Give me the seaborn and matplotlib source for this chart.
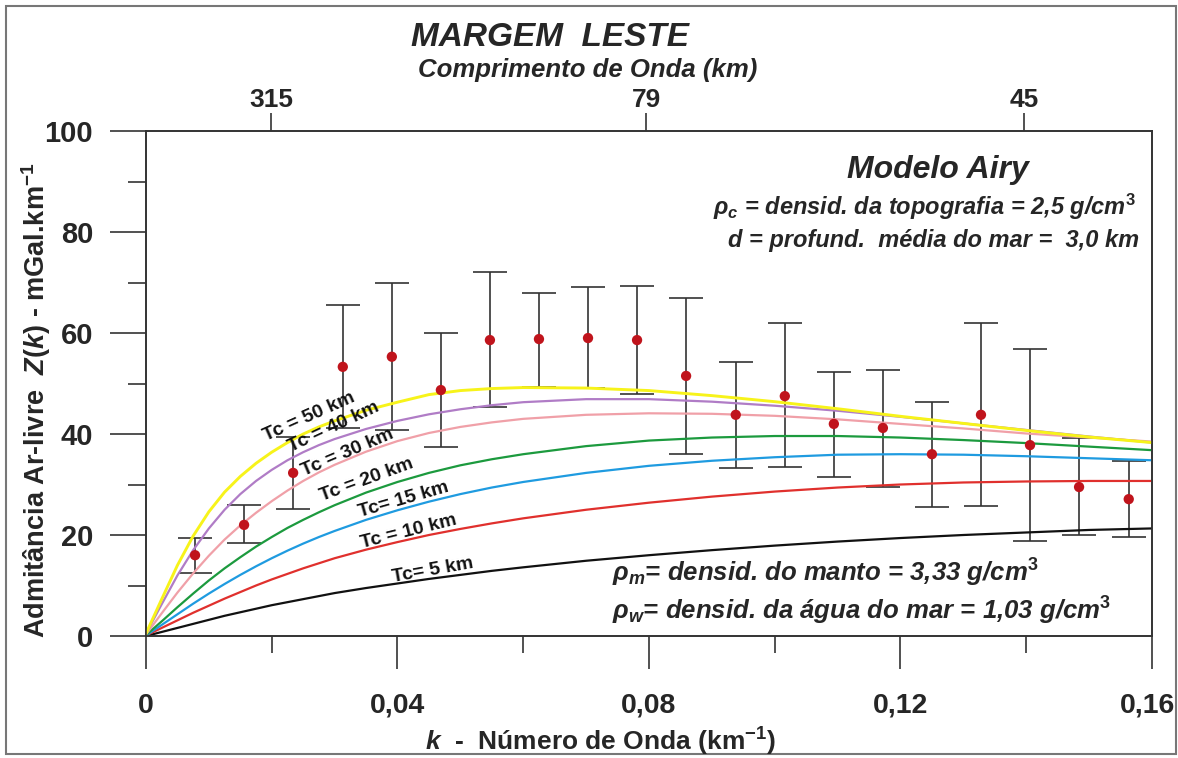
import numpy as np
import matplotlib
matplotlib.use("Agg")
import matplotlib.pyplot as plt
from matplotlib.patches import Rectangle
from matplotlib.ticker import MultipleLocator
from matplotlib.transforms import ScaledTranslation
import seaborn as sns

# --- data ---
k_curve = [0, 0.0025, 0.005, 0.0075, 0.01, 0.0125, 0.015, 0.0175, 0.02, 0.0225, 0.025,
           0.0275, 0.03, 0.035, 0.04, 0.045, 0.05, 0.055, 0.06, 0.07, 0.08, 0.09, 0.10,
           0.11, 0.12, 0.13, 0.14, 0.15, 0.16]
tc50 = [0.5, 7.3, 14.0, 19.8, 24.6, 28.5, 31.6, 34.2, 36.4, 38.3, 40.0, 41.4, 42.6, 44.7,
        46.3, 47.8, 48.6, 49.0, 49.2, 49.1, 48.6, 47.6, 46.4, 45.0, 43.5, 42.1, 40.7,
        39.4, 38.3]
tc40 = [0.5, 6.3, 12.0, 17.0, 21.3, 25.0, 28.1, 30.7, 32.9, 34.8, 36.4, 37.8, 39.0, 41.0,
        42.6, 43.9, 44.9, 45.7, 46.3, 46.9, 46.9, 46.4, 45.6, 44.6, 43.4, 42.1, 40.8,
        39.5, 38.3]
tc30 = [0.3, 4.5, 8.6, 12.4, 15.9, 19.1, 21.9, 24.4, 26.7, 28.8, 30.7, 32.4, 33.9, 36.5,
        38.6, 40.2, 41.4, 42.3, 43.0, 43.8, 44.1, 44.0, 43.6, 42.9, 42.0, 41.1, 40.1,
        39.3, 38.5]
tc20 = [0.2, 2.9, 5.7, 8.4, 11.0, 13.4, 15.6, 17.7, 19.6, 21.4, 23.0, 24.5, 25.9, 28.4,
        30.5, 32.3, 33.8, 35.0, 36.0, 37.6, 38.7, 39.3, 39.6, 39.6, 39.3, 38.8, 38.2,
        37.5, 36.8]
tc15 = [0.1, 2.2, 4.3, 6.4, 8.4, 10.3, 12.1, 13.8, 15.4, 16.9, 18.3, 19.6, 20.8, 23.0,
        24.9, 26.6, 28.1, 29.4, 30.5, 32.3, 33.7, 34.7, 35.4, 35.9, 36.0, 35.9, 35.6,
        35.2, 34.8]
tc10 = [0.1, 1.6, 3.1, 4.6, 6.0, 7.4, 8.7, 10.0, 11.2, 12.3, 13.4, 14.4, 15.4, 17.1,
        18.6, 20.0, 21.2, 22.3, 23.3, 25.0, 26.4, 27.6, 28.6, 29.4, 30.0, 30.4, 30.6,
        30.7, 30.7]
tc5 = [0, 0.8, 1.6, 2.4, 3.2, 4.0, 4.7, 5.4, 6.1, 6.7, 7.3, 7.9, 8.5, 9.5, 10.4, 11.3,
       12.1, 12.9, 13.6, 14.9, 16.0, 17.0, 17.9, 18.7, 19.4, 20.0, 20.5, 21.0, 21.3]

curve_names = ["Tc= 5 km", "Tc = 10 km", "Tc= 15 km", "Tc = 20 km",
               "Tc = 30 km", "Tc = 40 km", "Tc = 50 km"]
curve_values = [tc5, tc10, tc15, tc20, tc30, tc40, tc50]
curve_colors = ["#111111", "#e0302d", "#1f9be0", "#1c9a3e", "#f0a0a8", "#b07cc6", "#f7f31a"]
label_k = [0.0456, 0.0418, 0.0409, 0.0351, 0.0320, 0.0299, 0.0259]
label_z = [12.9, 20.6, 27.0, 30.9, 36.4, 41.4, 43.4]
label_rot = [10, 14, 16, 20, 23, 25, 24]

k_obs = [0.0078, 0.0156, 0.0234, 0.0313, 0.0391, 0.0469, 0.0547, 0.0625, 0.0703, 0.0781,
         0.0859, 0.0938, 0.1016, 0.1094, 0.1172, 0.125, 0.1328, 0.1406, 0.1484, 0.1563]
z_obs = [16, 22, 32.3, 53.3, 55.3, 48.7, 58.6, 58.8, 59, 58.6,
         51.5, 43.8, 47.5, 42, 41.2, 36, 43.8, 37.8, 29.5, 27.1]
z_low = [12.5, 18.4, 25.2, 41.2, 40.8, 37.5, 45.3, 49.3, 49.1, 48,
         36, 33.3, 33.5, 31.5, 29.5, 25.5, 25.7, 18.8, 20, 19.6]
z_high = [19.5, 25.9, 39.4, 65.5, 69.9, 60, 72, 68, 69.1, 69.3,
          67, 54.3, 62, 52.3, 52.7, 46.4, 62, 56.8, 39.2, 34.7]

x_ticks = [0, 0.04, 0.08, 0.12, 0.16]
x_tick_labels = ["0", "0,04", "0,08", "0,12", "0,16"]
y_ticks = [0, 20, 40, 60, 80, 100]
wavelengths = [315, 79, 45]

sns.set_theme(style="ticks")
plt.rcParams['font.family'] = ['Liberation Sans', 'DejaVu Sans']
plt.rcParams['mathtext.fontset'] = 'custom'
plt.rcParams['mathtext.rm'] = 'Liberation Sans:bold'
plt.rcParams['mathtext.it'] = 'Liberation Sans:bold:italic'
plt.rcParams['mathtext.bf'] = 'Liberation Sans:bold'

W, H = 1178, 758
fig = plt.figure(figsize=(W / 100, H / 100), dpi=100)
ax = fig.add_axes([146 / W, 1 - 636 / H, (1152 - 146) / W, (636 - 131) / H])

# error bars
yerr = [np.array(z_obs) - np.array(z_low), np.array(z_high) - np.array(z_obs)]
ax.errorbar(k_obs, z_obs, yerr=yerr, fmt='none', ecolor='#333333', elinewidth=1.2,
            capsize=12, capthick=1.2, zorder=2)

# model curves
for vals, col, name in zip(curve_values, curve_colors, curve_names):
    lw = 2.1 if name == "Tc = 50 km" else 1.6
    sns.lineplot(x=k_curve, y=vals, color=col, lw=lw, ax=ax, zorder=3)

for name, kx, zy, rot in zip(curve_names, label_k, label_z, label_rot):
    ax.text(kx, zy, name, rotation=rot, rotation_mode='anchor', ha='center', va='center',
            fontsize=14, fontweight='bold', color='#111111', zorder=5)

# observed admittance
sns.scatterplot(x=k_obs, y=z_obs, color='#c0141c', s=55, edgecolor='none', ax=ax, zorder=4)

ax.set_xlim(0, 0.16)
ax.set_ylim(0, 100)
ax.set_xticks(x_ticks, labels=x_tick_labels)
ax.set_yticks(y_ticks)
ax.xaxis.set_minor_locator(MultipleLocator(0.02))
ax.yaxis.set_minor_locator(MultipleLocator(10))
ax.tick_params(axis='both', which='major', direction='out', width=1.2, color='#333333')
ax.tick_params(axis='x', which='major', length=24, pad=17, labelsize=20.5)
ax.tick_params(axis='y', which='major', length=26, pad=12, labelsize=21)
ax.tick_params(axis='x', which='minor', length=12, width=1.2, color='#333333')
ax.tick_params(axis='y', which='minor', length=13, width=1.2, color='#333333')
for lab in ax.get_xticklabels() + ax.get_yticklabels():
    lab.set_fontweight('bold')
# last k label sits against the right border, nudge it inside
last = ax.get_xticklabels()[-1]
last.set_transform(last.get_transform() + ScaledTranslation(-3 / 72, 0, fig.dpi_scale_trans))
for sp in ax.spines.values():
    sp.set_visible(True)
    sp.set_linewidth(1.2)
    sp.set_color('#333333')
ax.set_xlabel("")
ax.set_ylabel("")

# top axis: wavelength
top = ax.twiny()
top.set_xlim(ax.get_xlim())
top.set_xticks([2 * np.pi / w for w in wavelengths], labels=[str(w) for w in wavelengths])
top.tick_params(axis='x', direction='out', length=13, width=1.2, color='#333333',
                labelsize=19, pad=0.5)
for lab in top.get_xticklabels():
    lab.set_fontweight('bold')
for sp in top.spines.values():
    sp.set_linewidth(1.2)
    sp.set_color('#333333')

# titles and labels
fig.text(550 / W, 1 - 37 / H, "MARGEM  LESTE", ha='center', va='center',
         fontsize=24, fontweight='bold', fontstyle='italic')
fig.text(588 / W, 1 - 70 / H, "Comprimento de Onda (km)", ha='center', va='center',
         fontsize=18.5, fontweight='bold', fontstyle='italic')
fig.text(36 / W, 1 - 400 / H, r"Admitância Ar-livre  $Z(k)$ - mGal.km$^{-1}$",
         rotation=90, ha='center', va='center', fontsize=19.5, fontweight='bold')
fig.text(600 / W, 7 / H, r"$k$  -  Número de Onda (km$^{-1}$)",
         ha='center', va='baseline', fontsize=19, fontweight='bold')

# model annotations
ax.text(938 / W, 1 - 170 / H, "Modelo Airy", transform=fig.transFigure,
        ha='center', va='center', fontsize=23, fontweight='bold', fontstyle='italic')
ax.text(924 / W, 1 - 207 / H, r"$\rho_c$ = densid. da topografia = 2,5 g/cm$^3$",
        transform=fig.transFigure, ha='center', va='center', fontsize=17,
        fontweight='bold', fontstyle='italic')
ax.text(934 / W, 1 - 241 / H, "d = profund.  média do mar =  3,0 km",
        transform=fig.transFigure, ha='center', va='center', fontsize=17,
        fontweight='bold', fontstyle='italic')
ax.text(612 / W, 1 - 573 / H, r"$\rho_m$= densid. do manto = 3,33 g/cm$^3$",
        transform=fig.transFigure, ha='left', va='center', fontsize=18.5,
        fontweight='bold', fontstyle='italic')
ax.text(612 / W, 1 - 611 / H, r"$\rho_w$= densid. da água do mar = 1,03 g/cm$^3$",
        transform=fig.transFigure, ha='left', va='center', fontsize=18.5,
        fontweight='bold', fontstyle='italic')

# outer frame
fig.patches.append(Rectangle((6 / W, 4 / H), 1170 / W, 748 / H,
                             transform=fig.transFigure, fill=False,
                             edgecolor='#777777', lw=1.5))

fig.savefig("out.png", dpi=100)
